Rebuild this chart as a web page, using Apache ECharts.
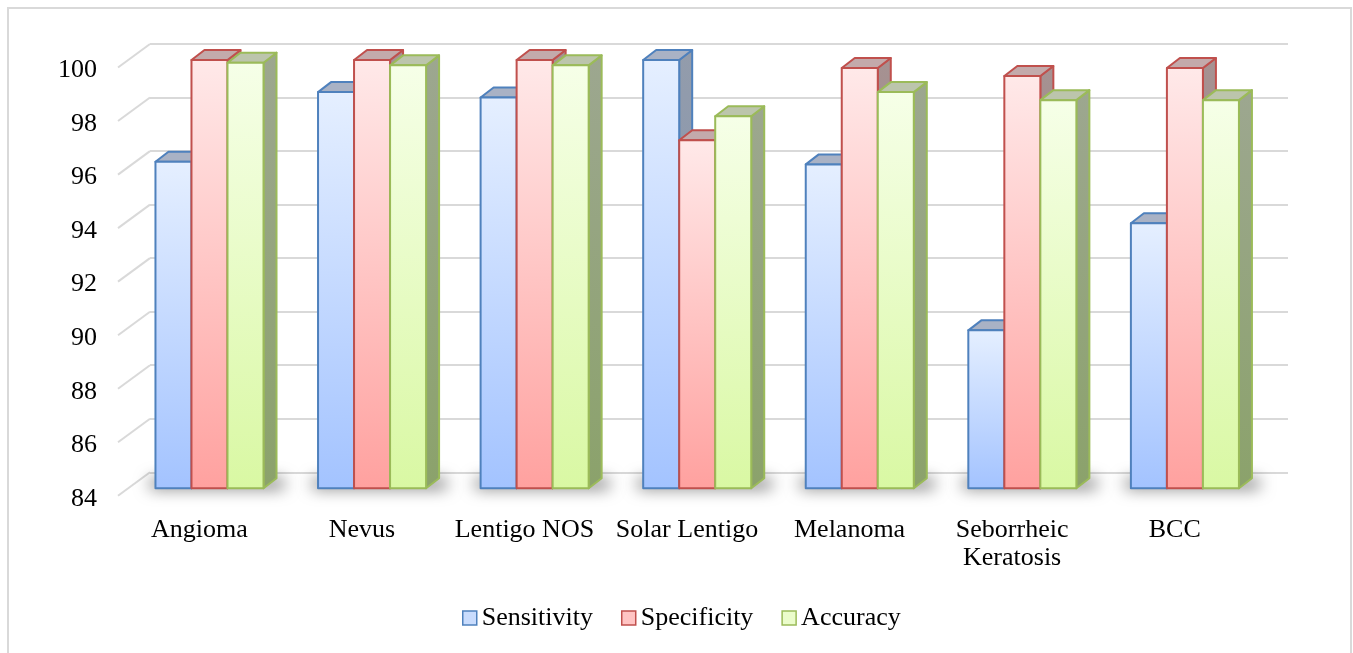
<!DOCTYPE html>
<html>
<head>
<meta charset="utf-8">
<title>Sensitivity, Specificity and Accuracy by lesion type</title>
<script src="https://cdn.jsdelivr.net/npm/echarts@6/dist/echarts.min.js"></script>
<style>
  html, body { margin: 0; padding: 0; background: #ffffff; }
  #chart { width: 1353px; height: 653px; }
</style>
</head>
<body>
<div id="chart"></div>
<script>
// ---- data ----
const CATEGORIES = ['Angioma', 'Nevus', 'Lentigo NOS', 'Solar Lentigo', 'Melanoma', 'Seborrheic\nKeratosis', 'BCC'];
const SENSITIVITY = [96.2, 98.8, 98.6, 100, 96.1, 89.9, 93.9];
const SPECIFICITY = [100, 100, 100, 97.0, 99.7, 99.4, 99.7];
const ACCURACY = [99.9, 99.8, 99.8, 97.9, 98.8, 98.5, 98.5];
const SERIES_NAMES = ['Sensitivity', 'Specificity', 'Accuracy'];
const Y_TICKS = [84, 86, 88, 90, 92, 94, 96, 98, 100];

// ---- 3D look ----
const Y_MIN = 84, Y_MAX = 100, Y_STEP = 2;
const WALL_DX = 32, WALL_DY = 23.5;     // side wall depth (front edge -> back wall)
const LABEL_DY = 3;                     // extra drop of the axis label row
const FRONT_DX = -21.8, FRONT_DY = 16;  // bar front plane relative to the back wall
const DEPTH_DX = 13, DEPTH_DY = -10;    // bar depth
const BAR_RATIO = 36 / 162.5;           // bar width as a share of the category band
const SHADOW_SHIFT = 3000;              // shadow caster is drawn off-canvas, only its shadow lands
const FONT = "'Liberation Serif', 'Times New Roman', serif";

const PALETTE = [
  { stroke: '#4f81bd', front: ['#e5efff', '#a3c3ff'], side: ['#939cab', '#7f93b4'], top: '#a9b2c5', legend: '#c9dcfd' },
  { stroke: '#c0504d', front: ['#ffe9e9', '#ffa19f'], side: ['#a69292', '#9c7f7f'], top: '#c3aaab', legend: '#ffc4c3' },
  { stroke: '#9bbb59', front: ['#f6ffe8', '#d9f8a3'], side: ['#9da790', '#8ba26b'], top: '#bcc5ac', legend: '#ebfccb' }
];

function vGrad(c0, c1) {
  return new echarts.graphic.LinearGradient(0, 0, 0, 1, [
    { offset: 0, color: c0 }, { offset: 1, color: c1 }
  ]);
}

function barRenderer(idx) {
  const pal = PALETTE[idx];
  return function (params, api) {
    const cat = api.value(0), val = api.value(1);
    const base = api.coord([cat, Y_MIN]);
    const top = api.coord([cat, val]);
    const band = api.size([1, 0])[0];
    const w = band * BAR_RATIO;
    const x0 = base[0] + FRONT_DX - 1.5 * w + idx * w;
    const yb = base[1] + FRONT_DY;
    const yt = top[1] + FRONT_DY;
    const line = { stroke: pal.stroke, lineWidth: 2, lineJoin: 'round' };
    return {
      type: 'group',
      children: [
        {
          type: 'polygon',
          shape: { points: [[x0 + w, yt], [x0 + w + DEPTH_DX, yt + DEPTH_DY], [x0 + w + DEPTH_DX, yb + DEPTH_DY], [x0 + w, yb]] },
          style: Object.assign({ fill: vGrad(pal.side[0], pal.side[1]) }, line)
        },
        {
          type: 'polygon',
          shape: { points: [[x0, yt], [x0 + DEPTH_DX, yt + DEPTH_DY], [x0 + w + DEPTH_DX, yt + DEPTH_DY], [x0 + w, yt]] },
          style: Object.assign({ fill: pal.top }, line)
        },
        {
          type: 'rect',
          shape: { x: x0, y: yt, width: w, height: yb - yt },
          style: Object.assign({ fill: vGrad(pal.front[0], pal.front[1]) }, line)
        }
      ]
    };
  };
}

// soft floor shadow under each group of bars
function shadowRenderer(params, api) {
  const cat = api.value(0);
  const base = api.coord([cat, Y_MIN]);
  const band = api.size([1, 0])[0];
  const w = band * BAR_RATIO;
  const left = base[0] + FRONT_DX - 1.5 * w - 6;
  const right = base[0] + FRONT_DX + 1.5 * w + DEPTH_DX + 8;
  const yb = base[1] + FRONT_DY;
  return {
    type: 'rect',
    shape: { x: left, y: yb - 9 - SHADOW_SHIFT, width: right - left, height: 9, r: 4 },
    style: {
      fill: '#000000',
      shadowColor: 'rgba(0,0,0,0.6)',
      shadowBlur: 16,
      shadowOffsetX: 0,
      shadowOffsetY: SHADOW_SHIFT
    }
  };
}

// diagonal gridlines on the left side wall
function wallRenderer(params, api) {
  const p = api.coord([0, api.value(1)]);
  const x = params.coordSys.x;
  return {
    type: 'line',
    shape: { x1: x - WALL_DX, y1: p[1] + WALL_DY, x2: x, y2: p[1] },
    style: { stroke: '#d9d9d9', lineWidth: 2 }
  };
}

const chart = echarts.init(document.getElementById('chart'), null, { renderer: 'canvas' });

const seriesData = [SENSITIVITY, SPECIFICITY, ACCURACY];

const option = {
  backgroundColor: '#ffffff',
  animation: false,
  graphic: [{
    type: 'rect',
    shape: { x: 8, y: 8, width: 1343, height: 660 },
    style: { fill: 'none', stroke: '#d9d9d9', lineWidth: 2 },
    silent: true
  }],
  grid: [
    // back wall
    { left: 150, top: 44, width: 1138, height: 428.3 },
    // front edge, carries the axis labels
    { left: 150 - WALL_DX, top: 44 + WALL_DY + LABEL_DY, width: 1138, height: 428.3 }
  ],
  xAxis: [
    { type: 'category', gridIndex: 0, data: CATEGORIES, show: false },
    {
      type: 'category', gridIndex: 1, data: CATEGORIES,
      axisLine: { show: false }, axisTick: { show: false },
      axisLabel: { interval: 0, margin: 17, fontSize: 26, lineHeight: 28, color: '#000000', fontFamily: FONT }
    }
  ],
  yAxis: [
    {
      type: 'value', gridIndex: 0, min: Y_MIN, max: Y_MAX, interval: Y_STEP,
      axisLine: { show: false }, axisTick: { show: false }, axisLabel: { show: false },
      splitLine: { show: true, lineStyle: { color: '#d9d9d9', width: 2 } }
    },
    {
      type: 'value', gridIndex: 1, min: Y_MIN, max: Y_MAX, interval: Y_STEP,
      axisLine: { show: false }, axisTick: { show: false }, splitLine: { show: false },
      axisLabel: { margin: 21, fontSize: 26, color: '#000000', fontFamily: FONT }
    }
  ],
  legend: {
    left: 462, top: 605, padding: 0,
    icon: 'rect', itemWidth: 14, itemHeight: 14, itemGap: 28,
    textStyle: { fontSize: 26, color: '#000000', fontFamily: FONT },
    data: SERIES_NAMES.map((n, i) => ({
      name: n,
      itemStyle: { color: PALETTE[i].legend, borderColor: PALETTE[i].stroke, borderWidth: 1.5 }
    }))
  },
  series: [
    {
      type: 'custom', name: 'wall', xAxisIndex: 0, yAxisIndex: 0, z: 1, silent: true,
      renderItem: wallRenderer,
      data: Y_TICKS.map(v => [0, v])
    },
    {
      type: 'custom', name: 'floor', xAxisIndex: 0, yAxisIndex: 0, z: 2, silent: true,
      renderItem: shadowRenderer,
      data: CATEGORIES.map((c, i) => [i, Y_MIN])
    }
  ].concat(SERIES_NAMES.map((name, i) => ({
    type: 'custom', name: name, xAxisIndex: 0, yAxisIndex: 0, z: 3 + i,
    itemStyle: { color: PALETTE[i].legend, borderColor: PALETTE[i].stroke },
    renderItem: barRenderer(i),
    data: seriesData[i].map((v, k) => [k, v])
  })))
};

chart.setOption(option);
</script>
</body>
</html>
